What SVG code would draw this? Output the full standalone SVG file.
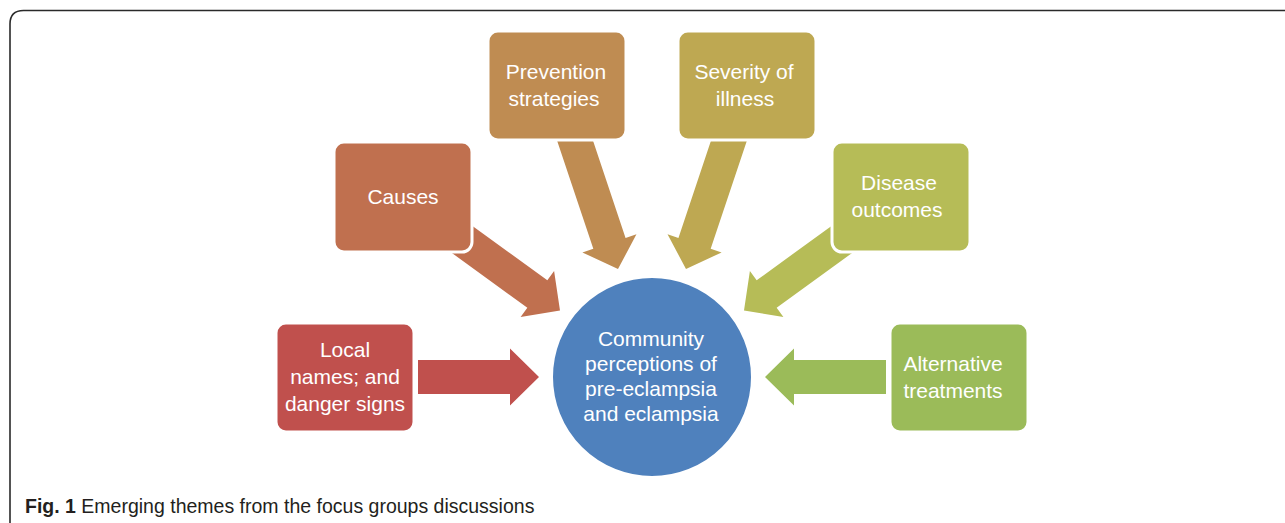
<svg xmlns="http://www.w3.org/2000/svg" width="1285" height="523" viewBox="0 0 1285 523">
  <defs>
    <style>
      .box { stroke: #ffffff; stroke-width: 3; }
      .lbl { font-family: "Liberation Sans", Arial, sans-serif; font-size: 21px; fill: #ffffff; text-anchor: middle; }
      .cap { font-family: "Liberation Sans", Arial, sans-serif; font-size: 19.5px; fill: #231f20; }
      .frame { fill: none; stroke: #2a2a2a; stroke-width: 1.6; }
    </style>
    <polygon id="arrow121" points="-121,-17 -29,-17 -29,-28.5 0,0 -29,28.5 -29,17 -121,17"/>
    <polygon id="arrow130" points="-132,-17 -28,-17 -28,-28.5 0,0 -28,28.5 -28,17 -132,17"/>
    <polygon id="arrow145" points="-145,-17 -27,-17 -27,-28.5 0,0 -27,28.5 -27,17 -145,17"/>
  </defs>

  <rect x="0" y="0" width="1285" height="523" fill="#ffffff"/>
  <path class="frame" d="M10,523 L10,24 Q10,10.5 23.5,10.5 L1285,10.5"/>

  <g id="connectors">
    <use href="#arrow121" fill="#C0504D" transform="translate(539,377)"/>
    <use href="#arrow130" fill="#C0704F" transform="translate(560,310.5) rotate(36)"/>
    <use href="#arrow145" fill="#BF8C52" transform="translate(618,269) rotate(71.5)"/>
    <use href="#arrow145" fill="#BEA852" transform="translate(686,269) rotate(108.5)"/>
    <use href="#arrow130" fill="#B6BC57" transform="translate(744,310.5) rotate(144)"/>
    <use href="#arrow121" fill="#9BBB59" transform="translate(765,377) rotate(180)"/>
  </g>

  <g id="node-local">
    <rect class="box" x="276" y="323" width="138" height="109" rx="10" fill="#C0504D"/>
    <text class="lbl" x="345" y="357">Local</text>
    <text class="lbl" x="345" y="384">names; and</text>
    <text class="lbl" x="345" y="411">danger signs</text>
  </g>

  <g id="node-causes">
    <rect class="box" x="334" y="142" width="138" height="110" rx="10" fill="#C0704F"/>
    <text class="lbl" x="403" y="204">Causes</text>
  </g>

  <g id="node-prevention">
    <rect class="box" x="488" y="31" width="138" height="109" rx="10" fill="#BF8C52"/>
    <text class="lbl" x="556" y="79">Prevention</text>
    <text class="lbl" x="554" y="106">strategies</text>
  </g>

  <g id="node-severity">
    <rect class="box" x="678" y="31" width="138" height="109" rx="10" fill="#BEA852"/>
    <text class="lbl" x="744" y="79">Severity of</text>
    <text class="lbl" x="745" y="106">illness</text>
  </g>

  <g id="node-disease">
    <rect class="box" x="832" y="142" width="138" height="110" rx="10" fill="#B6BC57"/>
    <text class="lbl" x="899" y="190">Disease</text>
    <text class="lbl" x="897" y="217">outcomes</text>
  </g>

  <g id="node-alternative">
    <rect class="box" x="890" y="323" width="138" height="109" rx="10" fill="#9BBB59"/>
    <text class="lbl" x="953" y="371">Alternative</text>
    <text class="lbl" x="953" y="398">treatments</text>
  </g>

  <g id="node-center">
    <circle cx="652" cy="377" r="100" fill="#4F81BD" stroke="#ffffff" stroke-width="2"/>
    <text class="lbl" x="651" y="346">Community</text>
    <text class="lbl" x="651" y="371">perceptions of</text>
    <text class="lbl" x="651" y="396">pre-eclampsia</text>
    <text class="lbl" x="651" y="421">and eclampsia</text>
  </g>

  <text class="cap" x="25" y="513"><tspan font-weight="bold">Fig. 1</tspan> Emerging themes from the focus groups discussions</text>
</svg>
